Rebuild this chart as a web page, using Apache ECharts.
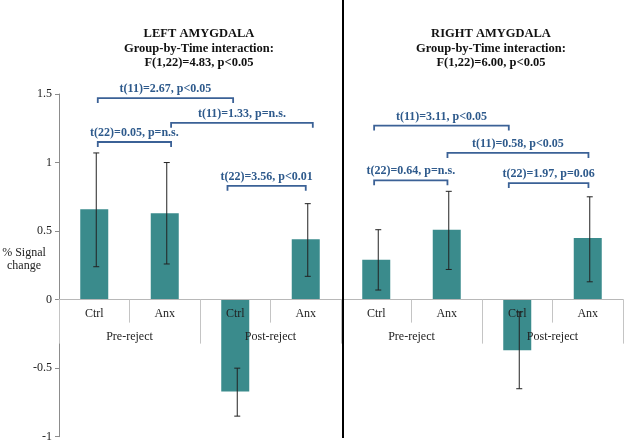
<!DOCTYPE html>
<html>
<head>
<meta charset="utf-8">
<script src="https://cdn.jsdelivr.net/npm/echarts@6/dist/echarts.min.js"></script>
<style>
html,body{margin:0;padding:0;background:#fff;}
#chart{width:624px;height:445px;}
</style>
</head>
<body>
<div id="chart"></div>
<script>
// ---- data ----
var categories = ['Ctrl', 'Anx', 'Ctrl', 'Anx', 'Ctrl', 'Anx', 'Ctrl', 'Anx'];
var groups = ['Pre-reject', 'Post-reject', 'Pre-reject', 'Post-reject'];
var meanValues = [0.66, 0.63, -0.67, 0.44, 0.29, 0.51, -0.37, 0.45];
var errLow = [0.24, 0.26, -0.85, 0.17, 0.07, 0.22, -0.65, 0.13];
var errHigh = [1.07, 1.00, -0.50, 0.70, 0.51, 0.79, -0.09, 0.75];
var yTicks = { min: -1, max: 1.5, step: 0.5 };
var panelTitles = [
  'LEFT AMYGDALA\nGroup-by-Time interaction:\nF(1,22)=4.83, p<0.05',
  'RIGHT AMYGDALA\nGroup-by-Time interaction:\nF(1,22)=6.00, p<0.05'
];
var bracketFrom = [0.05, 1.09, 0.05, 1.89, 3.97, 5.01, 3.97, 5.88];
var bracketTo = [1.97, 3.10, 1.09, 3.00, 5.88, 7.01, 5.01, 7.01];
var bracketLevel = [1.47, 1.29, 1.15, 0.83, 1.27, 1.07, 0.87, 0.85];
var bracketLabels = [
  't(11)=2.67, p<0.05',
  't(11)=1.33, p=n.s.',
  't(22)=0.05, p=n.s.',
  't(22)=3.56, p<0.01',
  't(11)=3.11, p<0.05',
  't(11)=0.58, p<0.05',
  't(22)=0.64, p=n.s.',
  't(22)=1.97, p=0.06'
];

// ---- build ----
var SERIF = "'Liberation Serif', 'Times New Roman', serif";
var errData = categories.map(function (c, i) { return [i, errLow[i], errHigh[i]]; });
var bracketData = bracketLabels.map(function (l, i) { return [bracketFrom[i], bracketTo[i], bracketLevel[i], i]; });

// layout
var GL = 59, GR = 1, GT = 94, GH = 342.7;
var zeroFrac = (yTicks.max - 0) / (yTicks.max - yTicks.min);

function catX(api, v, y) {
  var base = Math.floor(v);
  var w = api.size([1, 0])[0];
  return api.coord([base, y])[0] + (v - base) * w;
}

var chart = echarts.init(document.getElementById('chart'));
chart.setOption({
  animation: false,
  backgroundColor: '#ffffff',
  title: [
    { text: panelTitles[0], left: 194, top: 22, textAlign: 'center',
      textStyle: { fontFamily: SERIF, fontWeight: 'bold', fontSize: 12.5, lineHeight: 14.2, color: '#111' } },
    { text: panelTitles[1], left: 486, top: 22, textAlign: 'center',
      textStyle: { fontFamily: SERIF, fontWeight: 'bold', fontSize: 12.5, lineHeight: 14.2, color: '#111' } }
  ],
  grid: [
    { left: GL, right: GR, top: GT, height: GH, containLabel: false, outerBoundsMode: 'none' },
    { left: GL, right: GR, top: GT, height: GH * zeroFrac, containLabel: false, outerBoundsMode: 'none' }
  ],
  xAxis: [
    {
      type: 'category', data: categories, gridIndex: 0, show: false
    },
    {
      type: 'category', data: categories, gridIndex: 1, position: 'bottom', z: 4,
      axisLine: { onZero: false, lineStyle: { color: '#b8b8b8', width: 1 } },
      axisTick: { show: true, length: 23, interval: 0, lineStyle: { color: '#c4c4c4' } },
      axisLabel: { interval: 0, margin: 8, fontFamily: SERIF, fontSize: 12, color: '#222' },
      splitLine: { show: false }
    },
    {
      type: 'category', data: groups, gridIndex: 1, position: 'bottom', z: 4,
      axisLine: { onZero: false, show: false },
      axisTick: { show: true, length: 44, interval: 0, lineStyle: { color: '#c4c4c4' } },
      axisLabel: { interval: 0, margin: 31, fontFamily: SERIF, fontSize: 12, color: '#222' },
      splitLine: { show: false }
    }
  ],
  yAxis: [
    {
      type: 'value', gridIndex: 0, min: yTicks.min, max: yTicks.max, interval: yTicks.step,
      name: '% Signal\nchange\n ', nameLocation: 'middle', nameGap: 35, nameRotate: 0,
      nameMoveOverlap: false,
      nameTextStyle: { fontFamily: SERIF, fontSize: 12, color: '#222', lineHeight: 13,
        align: 'center', verticalAlign: 'middle' },
      axisLine: { show: true, lineStyle: { color: '#8c8c8c' } },
      axisTick: { show: true, length: 4, lineStyle: { color: '#8c8c8c' } },
      axisLabel: { margin: 7, fontFamily: SERIF, fontSize: 12, color: '#222' },
      splitLine: { show: false }
    },
    {
      type: 'value', gridIndex: 1, min: 0, max: yTicks.max, show: false, splitLine: { show: false }
    }
  ],
  series: [
    {
      type: 'bar', xAxisIndex: 0, yAxisIndex: 0, data: meanValues, barWidth: 28, z: 2,
      itemStyle: { color: '#3a8b8c' }
    },
    {
      type: 'custom', xAxisIndex: 0, yAxisIndex: 0, data: errData, z: 5,
      renderItem: function (params, api) {
        var lo = api.coord([api.value(0), api.value(1)]);
        var hi = api.coord([api.value(0), api.value(2)]);
        var x = lo[0] + 2, c = 3;
        var st = { stroke: '#222', lineWidth: 1 };
        return { type: 'group', children: [
          { type: 'line', shape: { x1: x, y1: lo[1], x2: x, y2: hi[1] }, style: st },
          { type: 'line', shape: { x1: x - c, y1: lo[1], x2: x + c, y2: lo[1] }, style: st },
          { type: 'line', shape: { x1: x - c, y1: hi[1], x2: x + c, y2: hi[1] }, style: st }
        ]};
      }
    },
    {
      type: 'custom', xAxisIndex: 0, yAxisIndex: 0, data: bracketData, z: 6,
      renderItem: function (params, api) {
        var y = api.coord([0, api.value(2)])[1];
        var x1 = catX(api, api.value(0), api.value(2));
        var x2 = catX(api, api.value(1), api.value(2));
        var leg = 5;
        return { type: 'group', children: [
          { type: 'polyline', shape: { points: [[x1, y + leg], [x1, y], [x2, y], [x2, y + leg]] },
            style: { stroke: '#3b6196', lineWidth: 1.8, fill: null } },
          { type: 'text', x: (x1 + x2) / 2, y: y - 3,
            style: { text: bracketLabels[api.value(3)], align: 'center', verticalAlign: 'bottom',
              font: 'bold 12px ' + SERIF, fill: '#2e5a8c' } }
        ]};
      }
    }
  ],
  graphic: [
    { type: 'line', shape: { x1: 343, y1: 0, x2: 343, y2: 438 }, style: { stroke: '#000', lineWidth: 2 }, z: 10 }
  ]
});
</script>
</body>
</html>
